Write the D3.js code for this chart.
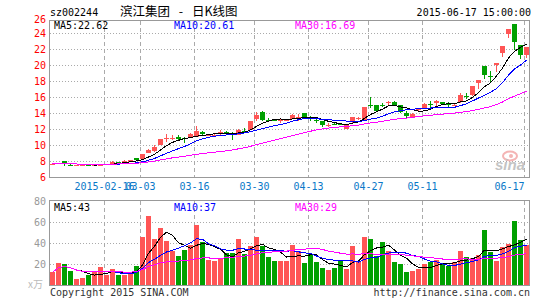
<!DOCTYPE html>
<html><head><meta charset="utf-8">
<script src="https://cdn.jsdelivr.net/npm/d3@7"></script>
<style>
html,body{margin:0;padding:0;background:#fff;}
svg{display:block;font-family:"DejaVu Sans Mono",monospace;font-size:10px;}
</style></head><body>
<svg id="c" width="545" height="300"></svg>
<script>
// ---------------- data ----------------
const stockCode = "sz002244";
const chartTitle = "滨江集团 - 日K线图";
const timeStamp = "2015-06-17 15:00:00";

const openP  = [7.68,7.72,8.02,7.60,7.47,7.52,7.54,7.52,7.56,7.60,
                7.72,7.93,7.88,7.92,8.36,8.22,9.04,9.28,10.04,10.84,
                10.90,10.98,10.88,10.96,11.10,11.62,11.28,11.30,11.58,11.64,
                11.50,11.30,11.82,11.92,13.28,14.16,13.20,13.18,13.12,13.15,
                13.30,13.56,14.00,13.36,13.18,13.00,12.50,12.68,12.68,12.08,
                12.90,13.32,13.18,15.10,15.02,15.10,15.36,15.44,14.98,14.10,
                13.62,14.45,14.66,15.18,15.25,15.40,15.18,15.06,15.33,16.10,
                16.24,17.75,19.90,18.70,20.08,21.58,23.83,25.10,22.50,21.25];
const closeP = [7.72,7.74,7.80,7.56,7.50,7.55,7.50,7.55,7.60,7.64,
                7.95,7.88,8.10,8.12,8.14,8.86,9.44,9.80,10.80,10.88,
                10.94,10.72,10.84,11.38,11.80,11.38,11.32,11.34,11.62,11.60,
                11.22,11.95,11.78,13.06,13.80,13.18,13.16,13.14,13.16,13.18,
                13.82,13.60,13.50,13.32,13.14,12.52,12.54,12.64,12.64,12.56,
                13.48,13.36,14.78,15.06,14.32,15.06,15.40,15.04,14.15,13.68,
                13.95,14.52,15.16,15.14,15.50,15.16,15.14,15.10,16.24,16.06,
                17.40,18.16,18.75,18.66,20.33,22.40,24.50,22.80,21.25,22.25];
const highP  = [7.78,7.80,8.05,7.66,7.55,7.62,7.58,7.58,7.64,7.68,
                8.00,7.96,8.14,8.16,8.40,8.92,9.50,9.98,10.84,11.40,
                11.30,11.35,11.05,11.48,12.45,11.78,11.40,11.55,11.95,11.80,
                11.62,12.00,12.15,13.08,14.20,14.30,13.45,13.35,13.30,13.30,
                13.90,13.90,14.05,13.70,13.35,13.10,12.80,12.80,12.80,12.60,
                13.55,13.55,14.80,16.05,15.10,15.35,15.60,15.50,15.00,14.25,
                14.00,14.65,15.30,15.55,15.70,15.45,15.40,15.20,16.50,16.60,
                17.45,18.20,19.95,19.30,20.35,22.45,24.55,25.10,22.55,22.30];
const lowP   = [7.62,7.66,7.40,7.36,7.42,7.45,7.44,7.48,7.52,7.56,
                7.68,7.84,7.86,7.88,8.10,8.18,8.98,9.20,9.98,10.45,
                10.70,10.65,10.25,10.90,11.05,11.22,11.20,11.20,11.30,11.45,
                10.70,11.28,11.60,11.90,13.10,13.10,12.95,13.00,12.80,13.05,
                13.25,13.05,13.45,13.00,12.85,12.30,12.25,12.55,12.55,12.05,
                12.85,13.20,13.15,14.68,14.25,14.80,15.10,14.98,14.05,13.45,
                13.40,14.30,14.50,14.60,14.80,15.10,14.80,15.00,15.30,15.80,
                16.20,17.05,18.25,17.90,19.20,21.00,23.45,21.90,20.80,20.90];
const volume = [12,21,19.7,13,5.7,6.3,10,12,17,9.5,
                15,9.5,9.5,12,17.8,45.7,65.4,43.8,54,42,
                32.4,28,33.7,38,57,40.6,24,23,25.4,30.5,
                30.5,43.8,30,36.8,45.7,37.5,26.7,23,23,23,
                38,32,21,30,22,16.5,14.6,16.5,23.5,15.2,
                37.5,22,45.7,43.8,27.3,40.6,32.4,22,20.3,12.7,
                13.3,15.2,19.7,22,23.5,19.7,18.4,21.5,32.4,26.7,
                26,28.6,52.7,31.7,23,36.2,39.4,61,43.2,38];

const dateLabels = ["2015-02-16","03-03","03-16","03-30","04-13","04-27","05-11","06-17"];
const dateIndex  = [9,15,24,34,43,53,62,79];
const priceTicks = [6,8,10,12,14,16,18,20,22,24,26];
const volTicks   = [20,40,60,80];
const maPeriods  = [5,10,30];
const maMainLabels = ["MA5:22.62","MA10:20.61","MA30:16.69"];
const maVolLabels  = ["MA5:43","MA10:37","MA30:29"];

// ---------------- drawing ----------------
const svg = d3.select("#c");
const RED = "#ff5555", GREEN = "#00a000";
const maColors = ["#000000","#0000ff","#ff00ff"];
const n = closeP.length;
const x = d3.scaleLinear().domain([0, n-1]).range([50, 524]);
const yP = d3.scaleLinear().domain([6, 26]).range([177.3, 17.3]);
const yV = d3.scaleLinear().domain([0, 80]).range([285, 201]);
const up = i => closeP[i] >= openP[i];

function ma(arr, p){
  return arr.map((d,i)=>{ const s = Math.max(0,i-p+1); return d3.mean(arr.slice(s,i+1)); });
}

// header
svg.append("text").attr("x",50).attr("y",16).attr("fill","#000").text(stockCode);
svg.append("text").attr("x",120).attr("y",15.5).attr("fill","#000")
   .style("font-family",'"Noto Sans CJK SC",sans-serif').style("font-size","12.5px")
   .style("word-spacing","6px").text(chartTitle);
svg.append("text").attr("x",531).attr("y",16).attr("text-anchor","end").attr("fill","#000").text(timeStamp);

function panelGrid(top, bottom, hTicks, yScale){
  const g = svg.append("g");
  g.selectAll("line.h").data(hTicks).join("line")
    .attr("x1",50).attr("x2",529).attr("y1",d=>Math.round(yScale(d))+0.5).attr("y2",d=>Math.round(yScale(d))+0.5)
    .attr("stroke","#aaa").attr("stroke-dasharray","1,2").attr("shape-rendering","crispEdges");
  g.selectAll("line.v").data(dateIndex).join("line")
    .attr("x1",d=>x(d)+0.5).attr("x2",d=>x(d)+0.5).attr("y1",top).attr("y2",bottom)
    .attr("stroke","#aaa").attr("stroke-dasharray","4,3").attr("shape-rendering","crispEdges");
}
panelGrid(21, 177, priceTicks.filter(v=>v>6 && v<26), yP);
panelGrid(201, 285, volTicks.filter(v=>v<80), yV);

// watermark
const wm = svg.append("g");
wm.append("ellipse").attr("cx",510).attr("cy",156).attr("rx",7).attr("ry",4.5)
  .attr("fill","none").attr("stroke","#f4b4b4").attr("stroke-width",2);
wm.append("circle").attr("cx",511).attr("cy",156).attr("r",2).attr("fill","#f4b4b4");
wm.append("text").attr("x",495).attr("y",170).attr("fill","#c4c4c4")
  .style("font-family","'Liberation Sans',Arial,sans-serif").style("font-size","15px")
  .style("font-weight","bold").style("font-style","italic").text("sina");

// borders
svg.append("rect").attr("x",49.5).attr("y",20.5).attr("width",480).attr("height",157)
  .attr("fill","none").attr("stroke","#999").attr("shape-rendering","crispEdges");
svg.append("rect").attr("x",49.5).attr("y",200.5).attr("width",480).attr("height",85)
  .attr("fill","none").attr("stroke","#999").attr("shape-rendering","crispEdges");

// y axes
const axP = svg.append("g").attr("transform","translate(46,0)")
  .call(d3.axisLeft(yP).tickValues(priceTicks).tickSize(0).tickPadding(0).tickFormat(d3.format("d")));
axP.select(".domain").remove();
axP.selectAll("text").attr("fill","#ff0000").style("font-family",'"DejaVu Sans Mono",monospace').style("font-size","10px");
axP.selectAll(".tick").filter(d=>d===26).attr("transform","translate(0,19.5)");

const axV = svg.append("g").attr("transform","translate(46,0)")
  .call(d3.axisLeft(yV).tickValues(volTicks).tickSize(0).tickPadding(0).tickFormat(d3.format("d")));
axV.select(".domain").remove();
axV.selectAll("text").attr("fill","#999").style("font-family",'"DejaVu Sans Mono",monospace').style("font-size","10px");

// x labels
svg.append("g").selectAll("text").data(dateIndex).join("text")
  .attr("x",d=>x(d)+0.5)
  .attr("y",190)
  .attr("text-anchor",(d,k)=> k===dateIndex.length-1 ? "end" : "middle")
  .attr("fill","#0a78c8").text((d,k)=>dateLabels[k]);

// candles
const idx = d3.range(n);
const cg = svg.append("g").attr("shape-rendering","crispEdges");
cg.selectAll("line").data(idx).join("line")
  .attr("x1",i=>x(i)+2.5).attr("x2",i=>x(i)+2.5)
  .attr("y1",i=>Math.round(yP(highP[i]))).attr("y2",i=>Math.round(yP(lowP[i])))
  .attr("stroke",i=>up(i)?RED:GREEN);
cg.selectAll("rect").data(idx).join("rect")
  .attr("x",i=>x(i)).attr("width",5)
  .attr("y",i=>Math.round(yP(Math.max(openP[i],closeP[i]))))
  .attr("height",i=>Math.max(1, Math.round(Math.abs(yP(openP[i])-yP(closeP[i])))))
  .attr("fill",i=>up(i)?RED:GREEN);

// price MA lines
maPeriods.forEach((p,k)=>{
  const m = ma(closeP,p);
  svg.append("path").datum(idx)
    .attr("d", d3.line().x(i=>x(i)+2.5).y(i=>yP(m[i])))
    .attr("fill","none").attr("stroke",maColors[k]).attr("stroke-width",1).attr("shape-rendering","crispEdges");
});

// volume bars
svg.append("g").attr("shape-rendering","crispEdges").selectAll("rect").data(idx).join("rect")
  .attr("x",i=>x(i)).attr("width",5)
  .attr("y",i=>Math.round(yV(volume[i]))).attr("height",i=>285-Math.round(yV(volume[i])))
  .attr("fill",i=>up(i)?RED:GREEN);

maPeriods.forEach((p,k)=>{
  const m = ma(volume,p);
  svg.append("path").datum(idx)
    .attr("d", d3.line().x(i=>x(i)+2.5).y(i=>yV(m[i])))
    .attr("fill","none").attr("stroke",maColors[k]).attr("stroke-width",1).attr("shape-rendering","crispEdges");
});

// legends
const legX = [54,174,295];
svg.append("g").selectAll("text").data(maMainLabels).join("text")
  .attr("x",(d,k)=>legX[k]).attr("y",28.5).attr("fill",(d,k)=>maColors[k]).text(d=>d);
svg.append("g").selectAll("text").data(maVolLabels).join("text")
  .attr("x",(d,k)=>legX[k]).attr("y",210.5).attr("fill",(d,k)=>maColors[k]).text(d=>d);

// units & footer
svg.append("text").attr("x",28).attr("y",288).attr("fill","#bbb")
  .style("font-family",'"Noto Sans CJK SC",sans-serif').style("font-size","10px").text("x万");
svg.append("text").attr("x",50).attr("y",296).attr("fill","#333").text("Copyright 2015 SINA.COM");
svg.append("text").attr("x",530).attr("y",296).attr("text-anchor","end").attr("fill","#333").text("http://finance.sina.com.cn");
</script>
</body></html>
